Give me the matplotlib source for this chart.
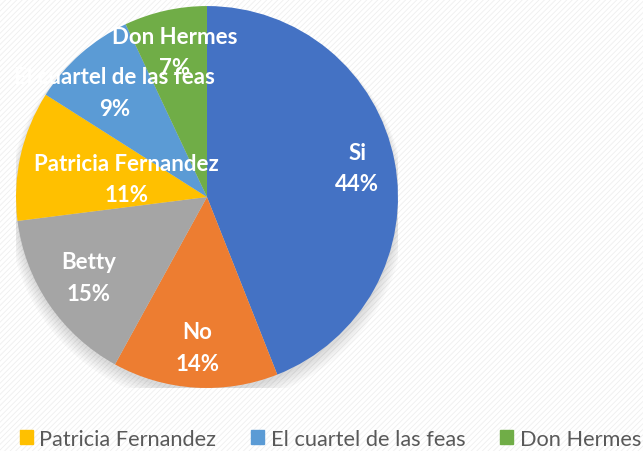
import numpy as np
import matplotlib
matplotlib.use("Agg")
import matplotlib.pyplot as plt
from matplotlib.patches import Rectangle, Circle

labels = ["Si", "No", "Betty", "Patricia Fernandez", "El cuartel de las feas", "Don Hermes"]
values = [44, 14, 15, 11, 9, 7]
colors = ["#4472C4", "#ED7D31", "#A5A5A5", "#FFC000", "#5B9BD5", "#70AD47"]
legend_items = [3, 4, 5]  # only these are visible in the cropped legend

plt.rcParams["font.family"] = ["Lato", "DejaVu Sans"]
plt.rcParams["hatch.linewidth"] = 0.6

fig = plt.figure(figsize=(6.43, 4.52), dpi=100)
fig.patch.set_facecolor("white")

# faint diagonal texture of the chart background
bg = Rectangle((0, 0), 1, 1, transform=fig.transFigure, facecolor="white",
               edgecolor="#efefef", hatch="//////", linewidth=0, zorder=-10)
fig.add_artist(bg)

ax = fig.add_axes([0.0249, 0.1394, 0.594, 0.845])
ax.set_facecolor("none")

# soft shadow under the pie
for k in range(6):
    ax.add_patch(Circle((0, -0.02 - 0.006 * k), 1.0 + 0.008 * k, color="#000000",
                        alpha=0.025, linewidth=0, zorder=0))

wedges, _ = ax.pie(values, colors=colors, startangle=90, counterclock=False,
                   radius=1.0, wedgeprops=dict(linewidth=0, zorder=1))

label_dist = [0.80, 0.79, 0.75, 0.43, 0.73, 0.78]
for w, lab, v, d in zip(wedges, labels, values, label_dist):
    ang = np.deg2rad((w.theta1 + w.theta2) / 2)
    x, y = d * np.cos(ang), d * np.sin(ang)
    ax.text(x, y, f"{lab}\n{v}%", ha="center", va="center", color="white",
            fontsize=16, fontweight="bold", linespacing=1.6, zorder=5)

ax.set_xlim(-1, 1)
ax.set_ylim(-1, 1)
ax.set_aspect("equal")
ax.axis("off")

handles = [Rectangle((0, 0), 1, 1, color=colors[i]) for i in legend_items]
fig.legend(handles, [labels[i] for i in legend_items], loc="center",
           bbox_to_anchor=(0.514, 0.0265), ncol=3, frameon=False, fontsize=15.7,
           handlelength=0.6, handleheight=0.6, handletextpad=0.3,
           columnspacing=1.6, labelcolor="#595959", borderaxespad=0, borderpad=0)

fig.savefig("out.png", dpi=100)
